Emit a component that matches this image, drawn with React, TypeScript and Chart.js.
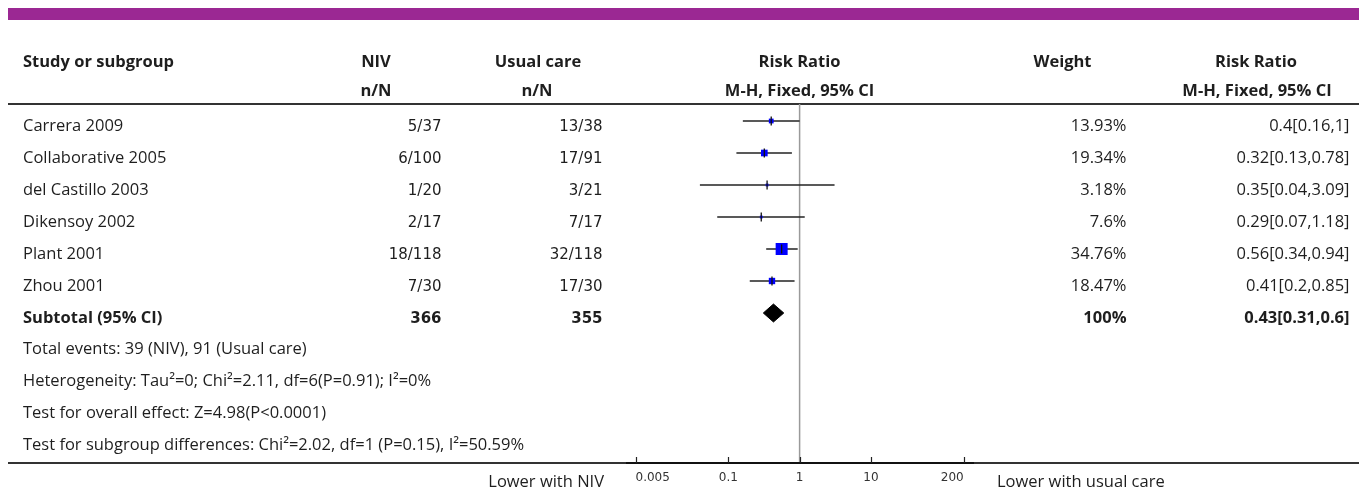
import React, { useEffect, useRef } from 'react';
import { Chart, registerables } from 'chart.js';

Chart.register(...registerables);

// ---------------- data ----------------
const studyNames = ['Carrera 2009', 'Collaborative 2005', 'del Castillo 2003', 'Dikensoy 2002', 'Plant 2001', 'Zhou 2001'];
const nivEvents = [5, 6, 1, 2, 18, 7];
const nivTotals = [37, 100, 20, 17, 118, 30];
const careEvents = [13, 17, 3, 7, 32, 17];
const careTotals = [38, 91, 21, 17, 118, 30];
const weights = [13.93, 19.34, 3.18, 7.6, 34.76, 18.47];
const riskRatios = [0.4, 0.32, 0.35, 0.29, 0.56, 0.41];
const ciLower = [0.16, 0.13, 0.04, 0.07, 0.34, 0.2];
const ciUpper = [1, 0.78, 3.09, 1.18, 0.94, 0.85];

const subtotalLabel = 'Subtotal (95% CI)';
const subtotalNiv = 366;
const subtotalCare = 355;
const subtotalWeight = 100;
const subtotalRR = 0.43;
const subtotalLower = 0.31;
const subtotalUpper = 0.6;

const footerLines = [
  'Total events: 39 (NIV), 91 (Usual care)',
  'Heterogeneity: Tau\u00B2=0; Chi\u00B2=2.11, df=6(P=0.91); I\u00B2=0%',
  'Test for overall effect: Z=4.98(P<0.0001)',
  'Test for subgroup differences: Chi\u00B2=2.02, df=1 (P=0.15), I\u00B2=50.59%',
];

const xTickValues = [0.005, 0.1, 1, 10, 200];
const favoursLeft = 'Lower with NIV';
const favoursRight = 'Lower with usual care';

const headerRow1 = ['Study or subgroup', 'NIV', 'Usual care', 'Risk Ratio', 'Weight', 'Risk Ratio'];
const headerRow2 = ['n/N', 'n/N', 'M-H, Fixed, 95% CI', 'M-H, Fixed, 95% CI'];

// ---------------- styling / layout ----------------
const W = 1359;
const H = 490;
const SANS = '"Open Sans", Roboto, sans-serif';
const MONO = '"DejaVu Sans", sans-serif';
const TEXT = '#1e1e1e';
const PURPLE = '#9b2893';

const subtotalRow = studyNames.length;

function drawText(
  ctx: CanvasRenderingContext2D,
  s: string,
  x: number,
  y: number,
  align: CanvasTextAlign,
  font: string,
  color: string = TEXT
) {
  ctx.font = font;
  ctx.fillStyle = color;
  ctx.textAlign = align;
  ctx.textBaseline = 'alphabetic';
  ctx.fillText(s, x, y);
}

const tablePlugin = {
  id: 'forestTable',
  beforeDraw(chart: any) {
    const { ctx, chartArea, scales } = chart;
    const x = scales.x;
    ctx.save();
    ctx.fillStyle = '#ffffff';
    ctx.fillRect(0, 0, W, H);
    // purple banner
    ctx.fillStyle = PURPLE;
    ctx.fillRect(8, 8, W - 8, 12);
    // header rule and bottom rule
    ctx.strokeStyle = '#333';
    ctx.lineWidth = 2;
    ctx.beginPath();
    ctx.moveTo(8, chartArea.top);
    ctx.lineTo(W, chartArea.top);
    ctx.moveTo(8, chartArea.bottom);
    ctx.lineTo(W, chartArea.bottom);
    ctx.stroke();
    // line of no effect
    const x1 = x.getPixelForValue(1);
    ctx.strokeStyle = '#9a9a9a';
    ctx.lineWidth = 1.5;
    ctx.beginPath();
    ctx.moveTo(x1, chartArea.top);
    ctx.lineTo(x1, chartArea.bottom);
    ctx.stroke();
    ctx.restore();
  },
  afterDraw(chart: any) {
    const { ctx, scales, chartArea } = chart;
    const y = scales.y;
    const x = scales.x;
    ctx.save();

    // inward tick marks at the axis tick positions
    ctx.strokeStyle = '#222';
    ctx.lineWidth = 1.2;
    ctx.beginPath();
    x.ticks.forEach((t: any) => {
      const px = Math.round(x.getPixelForValue(t.value)) + 0.5;
      ctx.moveTo(px, chartArea.bottom);
      ctx.lineTo(px, chartArea.bottom - 6);
    });
    ctx.stroke();

    const reg = `16.5px ${SANS}`;
    const bold = `bold 16.5px ${SANS}`;
    const num = `15px ${MONO}`;
    const numBold = `bold 15px ${MONO}`;

    // headers
    const h1 = 66.5;
    const h2 = 95.5;
    drawText(ctx, headerRow1[0], 23, h1, 'left', bold);
    drawText(ctx, headerRow1[1], 376, h1, 'center', bold);
    drawText(ctx, headerRow1[2], 538, h1, 'center', bold);
    drawText(ctx, headerRow1[3], 799.5, h1, 'center', bold);
    drawText(ctx, headerRow1[4], 1062.5, h1, 'center', bold);
    drawText(ctx, headerRow1[5], 1256, h1, 'center', bold);
    drawText(ctx, headerRow2[0], 376, h2, 'center', bold);
    drawText(ctx, headerRow2[1], 537, h2, 'center', bold);
    drawText(ctx, headerRow2[2], 799.5, h2, 'center', bold);
    drawText(ctx, headerRow2[3], 1257, h2, 'center', bold);

    const base = (i: number) => y.getPixelForValue(i) + 9.5;

    studyNames.forEach((name, i) => {
      const b = base(i);
      drawText(ctx, name, 23, b, 'left', reg);
      drawText(ctx, `${nivEvents[i]}/${nivTotals[i]}`, 441.5, b, 'right', num);
      drawText(ctx, `${careEvents[i]}/${careTotals[i]}`, 602.5, b, 'right', num);
      drawText(ctx, `${weights[i]}%`, 1126.5, b, 'right', reg);
      drawText(ctx, `${riskRatios[i]}[${ciLower[i]},${ciUpper[i]}]`, 1349.5, b, 'right', reg);
    });

    const bs = base(subtotalRow);
    drawText(ctx, subtotalLabel, 23, bs, 'left', bold);
    drawText(ctx, String(subtotalNiv), 441.5, bs, 'right', numBold);
    drawText(ctx, String(subtotalCare), 602.5, bs, 'right', numBold);
    drawText(ctx, `${subtotalWeight}%`, 1126.5, bs, 'right', bold);
    drawText(ctx, `${subtotalRR}[${subtotalLower},${subtotalUpper}]`, 1349.5, bs, 'right', bold);

    footerLines.forEach((line, k) => {
      drawText(ctx, line, 23, base(subtotalRow + 1 + k) - 1, 'left', reg);
    });

    drawText(ctx, favoursLeft, 604, 486.5, 'right', reg);
    drawText(ctx, favoursRight, 997, 486.5, 'left', reg);
    ctx.restore();
  },
};

function buildConfig(): any {
  const points = riskRatios.map((v, i) => ({ x: v, y: i }));
  const ciDatasets = studyNames.map((name, i) => ({
    label: `${name} CI`,
    data: [
      { x: ciLower[i], y: i },
      { x: ciUpper[i], y: i },
    ],
    showLine: true,
    borderColor: '#222',
    borderWidth: 1.5,
    pointRadius: 0,
    order: 3,
  }));
  const squares = {
    label: 'Study weight',
    data: points,
    pointStyle: 'rect',
    pointRadius: weights.map((w) => Math.max(2.8, w * 0.345) / Math.SQRT2),
    pointBackgroundColor: '#0000ff',
    pointBorderWidth: 0,
    order: 2,
  };
  const estimateMarks = {
    label: 'Estimate',
    data: points,
    pointStyle: 'line',
    pointRotation: 90,
    pointRadius: 4.5,
    pointBorderColor: '#111',
    pointBorderWidth: 1.3,
    order: 1,
  };
  const diamond = {
    label: 'Subtotal',
    data: [
      { x: subtotalLower, y: subtotalRow },
      { x: subtotalRR, y: subtotalRow - 0.28 },
      { x: subtotalUpper, y: subtotalRow },
      { x: subtotalRR, y: subtotalRow + 0.28 },
      { x: subtotalLower, y: subtotalRow },
    ],
    showLine: true,
    fill: 'shape',
    backgroundColor: '#000',
    borderColor: '#000',
    borderWidth: 1,
    pointRadius: 0,
    order: 1,
  };

  return {
    type: 'scatter',
    data: { datasets: [estimateMarks, diamond, squares, ...ciDatasets] },
    options: {
      responsive: true,
      maintainAspectRatio: false,
      animation: false,
      events: [],
      layout: { padding: { left: 627, right: 386, top: 104, bottom: 0 } },
      plugins: { legend: { display: false }, tooltip: { enabled: false } },
      scales: {
        x: {
          type: 'logarithmic',
          position: 'bottom',
          min: 0.0038,
          max: 270,
          afterBuildTicks: (s: any) => {
            s.ticks = xTickValues.map((v) => ({ value: v }));
          },
          afterFit: (s: any) => {
            s.height = 27;
          },
          border: { display: true, color: '#111', width: 2 },
          grid: { display: false, drawTicks: false },
          ticks: {
            align: 'inner',
            padding: 8,
            autoSkip: false,
            maxRotation: 0,
            color: '#333',
            font: { family: 'DejaVu Sans', size: 12 },
            callback: (v: any) => String(v),
          },
        },
        y: { type: 'linear', display: false, reverse: true, min: -0.53125, max: 10.6875 },
      },
    },
    plugins: [tablePlugin],
  };
}

export default function App() {
  const ref = useRef<HTMLCanvasElement | null>(null);
  useEffect(() => {
    if (!ref.current) return;
    const chart = new Chart(ref.current, buildConfig());
    return () => chart.destroy();
  }, []);
  return (
    <div style={{ position: 'absolute', left: 0, top: 0, width: W, height: H, background: '#fff' }}>
      <canvas ref={ref} />
    </div>
  );
}
